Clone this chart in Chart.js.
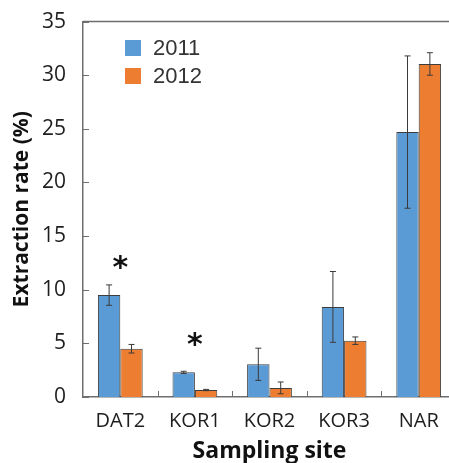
<!DOCTYPE html>
<html>
<head>
<meta charset="utf-8">
<script src="https://cdn.jsdelivr.net/npm/chart.js@4"></script>
<style>
  body { margin: 0; overflow: hidden; background: #fff; }
  #wrap { width: 449px; height: 463px; overflow: hidden; }
</style>
</head>
<body>
<div id="wrap"><canvas id="myChart" width="462" height="463"></canvas></div>
<script>
// Data
const sites = ['DAT2', 'KOR1', 'KOR2', 'KOR3', 'NAR'];
const years = ['2011', '2012'];
const rate2011 = [9.5, 2.3, 3.05, 8.4, 24.7];
const rate2012 = [4.5, 0.65, 0.85, 5.25, 31.05];
const err2011 = [0.95, 0.1, 1.5, 3.3, 7.1];
const err2012 = [0.4, 0.06, 0.55, 0.35, 1.05];
// significance marks
const starSites = ['DAT2', 'KOR1'];
const starValues = [12.5, 5.3];

const blue = '#5b9bd5';
const orange = '#ed7d31';
const axisColor = '#6e6e6e';

// error bars, inside ticks, top border, asterisks and legend
const extras = {
  id: 'extras',
  afterDatasetsDraw(chart) {
    const ctx = chart.ctx;
    const x = chart.scales.x;
    const y = chart.scales.y;
    const area = chart.chartArea;
    const errs = [err2011, err2012];

    ctx.save();
    // error bars
    chart.data.datasets.forEach((ds, di) => {
      const meta = chart.getDatasetMeta(di);
      meta.data.forEach((bar, i) => {
        const v = ds.data[i];
        const e = errs[di][i];
        const top = y.getPixelForValue(v + e);
        const bot = y.getPixelForValue(v - e);
        ctx.strokeStyle = '#3a3a3a';
        ctx.lineWidth = 1;
        ctx.beginPath();
        ctx.moveTo(bar.x, top); ctx.lineTo(bar.x, bot);
        ctx.moveTo(bar.x - 3, top); ctx.lineTo(bar.x + 3, top);
        ctx.moveTo(bar.x - 3, bot); ctx.lineTo(bar.x + 3, bot);
        ctx.stroke();
      });
    });

    // top border of the plot
    ctx.strokeStyle = axisColor;
    ctx.lineWidth = 1.5;
    ctx.beginPath();
    ctx.moveTo(area.left, area.top);
    ctx.lineTo(area.right + 20, area.top);
    ctx.stroke();

    // y ticks pointing into the plot
    ctx.lineWidth = 1;
    y.ticks.forEach(t => {
      const py = Math.round(y.getPixelForValue(t.value)) + 0.5;
      ctx.beginPath();
      ctx.moveTo(area.left, py);
      ctx.lineTo(area.left + 6, py);
      ctx.stroke();
    });
    // x ticks between categories
    for (let i = 1; i < sites.length; i++) {
      const px = Math.round((x.getPixelForValue(i - 1) + x.getPixelForValue(i)) / 2) + 0.5;
      ctx.beginPath();
      ctx.moveTo(px, area.bottom);
      ctx.lineTo(px, area.bottom - 6);
      ctx.stroke();
    }

    // asterisks
    ctx.fillStyle = '#111';
    ctx.font = 'bold 30px "DejaVu Sans"';
    ctx.textAlign = 'center';
    ctx.textBaseline = 'middle';
    starSites.forEach((s, i) => {
      const px = x.getPixelForValue(sites.indexOf(s));
      const py = y.getPixelForValue(starValues[i]);
      ctx.fillText('*', px, py + 6);
    });

    // legend
    ctx.font = '22px "Liberation Sans"';
    ctx.textAlign = 'left';
    ctx.textBaseline = 'middle';
    chart.data.datasets.forEach((ds, di) => {
      const ly = 48 + di * 28;
      ctx.fillStyle = ds.backgroundColor;
      ctx.fillRect(125, ly - 8, 16, 16);
      ctx.fillStyle = '#333';
      ctx.fillText(ds.label, 153, ly + 1);
    });
    ctx.restore();
  }
};

const ctx = document.getElementById('myChart');
new Chart(ctx, {
  type: 'bar',
  data: {
    labels: sites,
    datasets: [
      { label: years[0], data: rate2011, backgroundColor: blue, borderColor: '#3d3d3d', borderWidth: 1 },
      { label: years[1], data: rate2012, backgroundColor: orange, borderColor: '#3d3d3d', borderWidth: 1 }
    ]
  },
  options: {
    responsive: false,
    animation: false,
    layout: { padding: { top: 19, right: 6, left: 0, bottom: 0 } },
    plugins: { legend: { display: false }, tooltip: { enabled: false } },
    datasets: { bar: { categoryPercentage: 0.6, barPercentage: 1.0 } },
    scales: {
      x: {
        grid: { display: false },
        border: { display: true, color: axisColor, width: 1.5 },
        ticks: { color: '#1e1e1e', font: { family: 'Open Sans', size: 20 }, padding: 4 },
        title: { display: true, text: 'Sampling site', color: '#111',
                 font: { family: 'Open Sans', size: 23, weight: 'bold' }, padding: { top: 0, bottom: -2 } },
        afterFit(scale) { scale.height = 66; }
      },
      y: {
        min: 0, max: 35,
        grid: { display: false },
        border: { display: true, color: axisColor, width: 1.5 },
        ticks: { stepSize: 5, color: '#1e1e1e', font: { family: 'Open Sans', size: 21 }, padding: 9 },
        title: { display: true, text: 'Extraction rate (%)', color: '#111',
                 font: { family: 'Open Sans', size: 21, weight: 'bold' }, padding: { top: 9, bottom: 2 } },
        afterFit(scale) { scale.width = 83; }
      }
    }
  },
  plugins: [extras]
});
</script>
</body>
</html>
